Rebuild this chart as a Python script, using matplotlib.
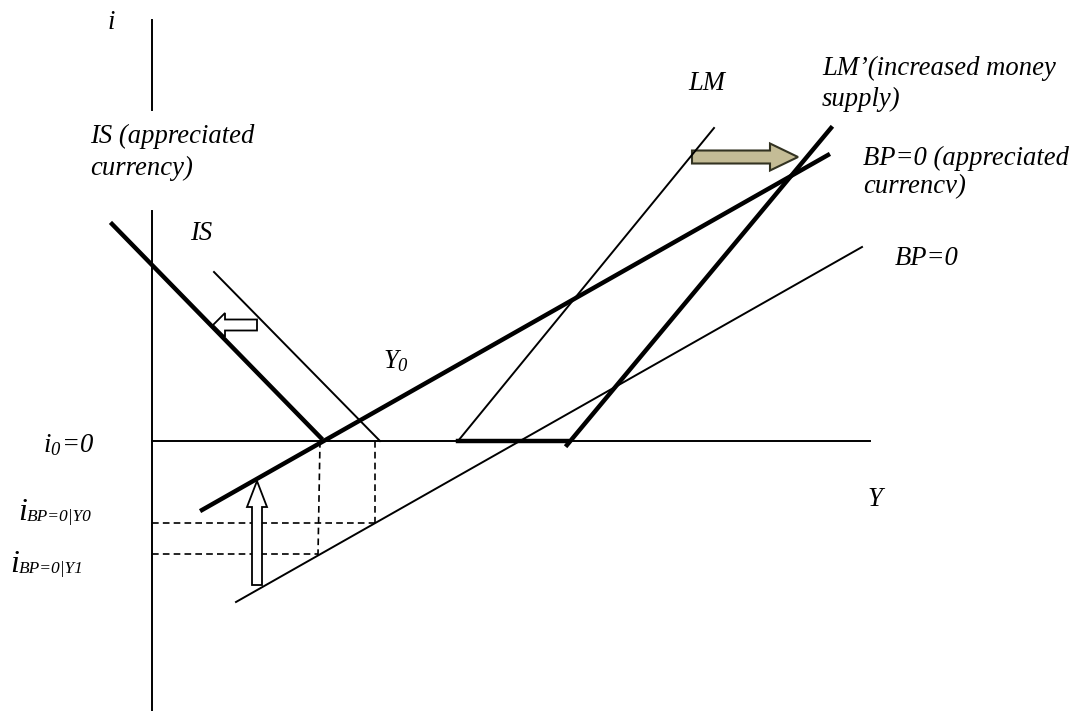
import matplotlib
matplotlib.use("Agg")
import matplotlib.pyplot as plt
from matplotlib.patches import FancyArrow

plt.rcParams['mathtext.fontset'] = 'custom'
plt.rcParams['mathtext.rm'] = 'Liberation Serif:italic'
plt.rcParams['mathtext.it'] = 'Liberation Serif:italic'

# diagram coordinates, in picture pixels (y grows downward)
axis_top_x = [152, 152]
axis_top_y = [20, 110]
axis_x = [152, 152]
axis_y = [211, 711]
i0_x = [152, 870]
i0_y = [441, 441]

is_app_x = [112, 321]
is_app_y = [224, 438]
is_x = [214, 380]
is_y = [272, 441]
bp_app_x = [202, 828]
bp_app_y = [510, 155]
bp_x = [236, 862]
bp_y = [602, 247]
lm_x = [458, 714]
lm_y = [441, 128]
lm2_x = [567, 831]
lm2_y = [445, 128]
trap_x = [458, 567]
trap_y = [441, 441]

dash_v_x = [[320, 318], [375, 375]]
dash_v_y = [[441, 555], [441, 523]]
dash_h_x = [[152, 375], [152, 318]]
dash_h_y = [[523, 523], [554, 554]]

labels = [
    (108, 29, "i"),
    (90, 143, "IS (appreciated"),
    (90, 175, "currency)"),
    (190, 240, "IS"),
    (383, 368, r"$Y_0$"),
    (43, 452, r"$i_0\!=\!0$"),
    (867, 506, "Y"),
    (688, 90, "LM"),
    (822, 75, "LM\u2019(increased money"),
    (822, 106, "supply)"),
    (863, 165, "BP=0 (appreciated"),
    (863, 193, "currencv)"),
    (895, 265, "BP=0"),
]
# interest-rate labels with small subscripts: (x, baseline, subscript)
bp_rate_labels = [
    (18, 520, "BP=0|Y0"),
    (10, 572, "BP=0|Y1"),
]

fig = plt.figure(figsize=(10.76, 7.11), dpi=100)
ax = fig.add_axes([0, 0, 1, 1])
ax.set_xlim(0, 1076)
ax.set_ylim(711, 0)
ax.axis('off')

thin = 1.4
thick = 3.2
ax.plot(axis_top_x, axis_top_y, color='black', lw=thin)
ax.plot(axis_x, axis_y, color='black', lw=thin)
ax.plot(i0_x, i0_y, color='black', lw=thin)
ax.plot(is_app_x, is_app_y, color='black', lw=thick)
ax.plot(is_x, is_y, color='black', lw=thin)
ax.plot(bp_app_x, bp_app_y, color='black', lw=thick)
ax.plot(bp_x, bp_y, color='black', lw=thin)
ax.plot(lm_x, lm_y, color='black', lw=thin)
ax.plot(lm2_x, lm2_y, color='black', lw=thick)
ax.plot(trap_x, trap_y, color='black', lw=thick)

for xs, ys in zip(dash_v_x + dash_h_x, dash_v_y + dash_h_y):
    ax.plot(xs, ys, color='black', lw=1.2, dashes=(4, 2.5))

# arrows
ax.add_patch(FancyArrow(692, 157, 106, 0, width=13, head_width=27, head_length=28,
                        length_includes_head=True, fc='#C4BC96', ec='#333322', lw=1.5))
ax.add_patch(FancyArrow(257, 585, 0, -104, width=10, head_width=20, head_length=26,
                        length_includes_head=True, fc='white', ec='black', lw=1.3, zorder=3))
ax.add_patch(FancyArrow(257, 325, -44, 0, width=11, head_width=24, head_length=12,
                        length_includes_head=True, fc='white', ec='black', lw=1.3, zorder=3))

font = dict(family='Liberation Serif', style='italic', ha='left', va='baseline')
for x, y, s in labels:
    ax.text(x, y, s, fontsize=19.2, **font)

for x, y, sub in bp_rate_labels:
    ax.text(x, y, "i", fontsize=23, **font)
    ax.text(x + 9, y + 1, sub, fontsize=12.5, **font)

fig.savefig('out.png', dpi=100)
